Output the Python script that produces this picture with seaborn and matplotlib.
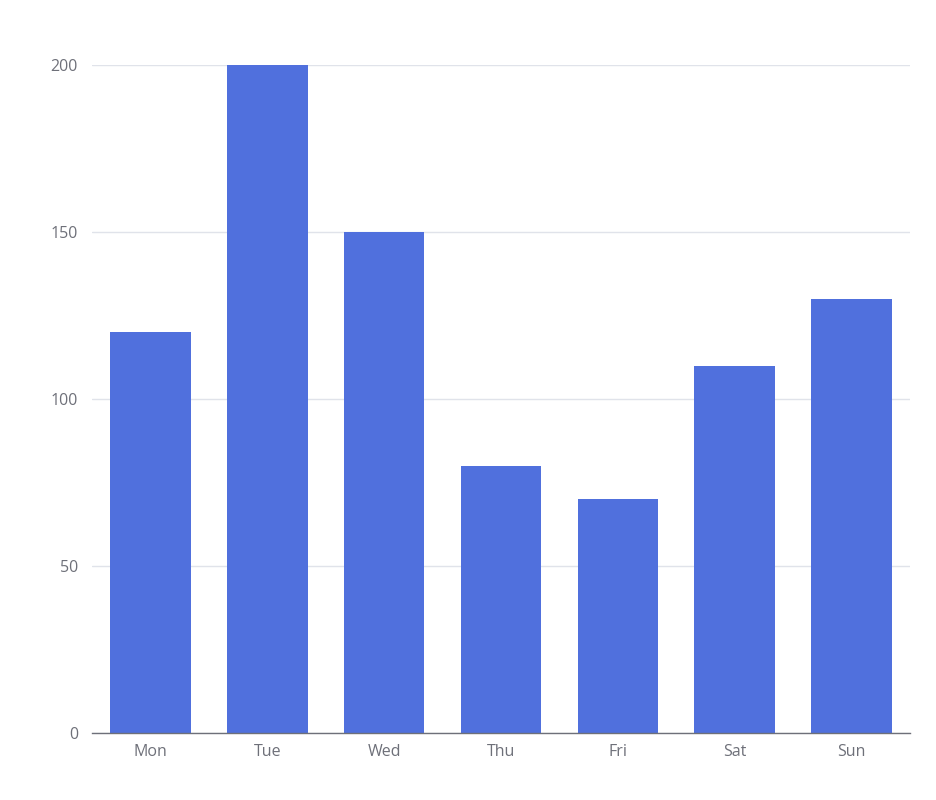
import matplotlib
matplotlib.use("Agg")
import matplotlib.pyplot as plt
import seaborn as sns
import pandas as pd

days = ["Mon", "Tue", "Wed", "Thu", "Fri", "Sat", "Sun"]
values = [120, 200, 150, 80, 70, 110, 130]
y_ticks = [0, 50, 100, 150, 200]

df = pd.DataFrame({"day": days, "value": values})

sns.set_theme(style="white")
plt.rcParams["font.family"] = ["Open Sans", "DejaVu Sans"]

fig = plt.figure(figsize=(9.37, 8), dpi=100)
ax = fig.add_axes([92 / 937, 67 / 800, 818 / 937, 668 / 800])

sns.barplot(data=df, x="day", y="value", color="#5070dd", saturation=1,
            width=0.69, linewidth=0, ax=ax)

ax.set_ylim(0, 200)
ax.set_xlim(-0.5, len(days) - 0.5)
ax.set_yticks(y_ticks)
ax.yaxis.grid(True, color="#e0e3ea", linewidth=1)
ax.set_axisbelow(True)
ax.set_xlabel("")
ax.set_ylabel("")

for side in ["top", "right", "left"]:
    ax.spines[side].set_visible(False)
ax.spines["bottom"].set_color("#6e7079")
ax.spines["bottom"].set_linewidth(1)

ax.tick_params(axis="both", length=0, labelsize=11.5, labelcolor="#6e7079")
ax.tick_params(axis="x", pad=8)
ax.tick_params(axis="y", pad=10)

fig.savefig("out.png", dpi=100)
